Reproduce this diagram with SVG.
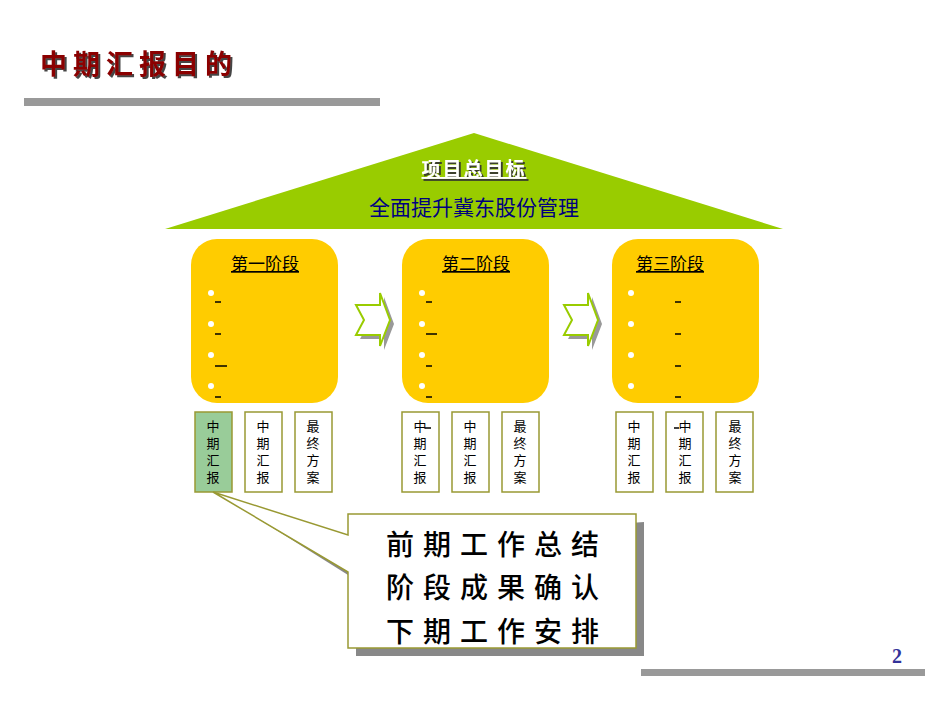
<svg xmlns="http://www.w3.org/2000/svg" width="950" height="713" viewBox="0 0 950 713">
<defs>
<filter id="sh" x="-10%" y="-20%" width="130%" height="150%"><feDropShadow dx="2" dy="2" stdDeviation="0.6" flood-color="#333" flood-opacity="0.9"/></filter>
</defs>
<style>
.stage{fill:#FFCC00;}
.st{font-family:"Noto Sans CJK SC",serif;font-size:17px;fill:#000;text-decoration:underline;}
.dot{fill:#fff;}
.dash{stroke:#000;stroke-width:1.5;}
.sb{fill:#fff;stroke:#999933;stroke-width:1.5;}
.sbt{font-family:"Noto Sans CJK SC",sans-serif;font-size:13px;fill:#000;writing-mode:vertical-rl;letter-spacing:4px;}
.arr{fill:#fff;stroke:#99CC00;stroke-width:2;}
.arrs{fill:#999;}
</style>
<rect width="950" height="713" fill="#fff"/>
<g id="title">
<text x="40" y="74" font-family="Noto Sans CJK SC,sans-serif" font-size="27" font-weight="bold" fill="#8B0000" letter-spacing="6" filter="url(#sh)">中期汇报目的</text>
<rect x="24" y="98" width="356" height="8" fill="#999"/>
</g>
<g id="roof">
<polygon points="474,133 165,229 783,229" fill="#99CC00"/>
<text x="474" y="176" text-anchor="middle" font-family="Noto Sans CJK SC,sans-serif" font-size="19" font-weight="bold" fill="#fff" letter-spacing="2" text-decoration="underline" filter="url(#sh)">项目总目标</text>
<text x="474" y="215" text-anchor="middle" font-family="Noto Sans CJK SC,sans-serif" font-size="21" fill="#000080">全面提升冀东股份管理</text>
</g>
<g id="stage1">
<rect class="stage" x="191" y="239" width="147" height="164" rx="26"/>
<text class="st" x="265" y="270" text-anchor="middle">第一阶段</text>
<circle class="dot" cx="211" cy="293" r="3"/><circle class="dot" cx="211" cy="324" r="3"/><circle class="dot" cx="211" cy="355" r="3"/><circle class="dot" cx="211" cy="386" r="3"/>
<line class="dash" x1="215" y1="302" x2="221" y2="302"/><line class="dash" x1="215" y1="334" x2="221" y2="334"/><line class="dash" x1="215" y1="366" x2="227" y2="366"/><line class="dash" x1="215" y1="397" x2="221" y2="397"/>
</g>
<g id="stage2">
<rect class="stage" x="402" y="239" width="147" height="164" rx="26"/>
<text class="st" x="476" y="270" text-anchor="middle">第二阶段</text>
<circle class="dot" cx="422" cy="293" r="3"/><circle class="dot" cx="422" cy="324" r="3"/><circle class="dot" cx="422" cy="355" r="3"/><circle class="dot" cx="422" cy="386" r="3"/>
<line class="dash" x1="426" y1="302" x2="432" y2="302"/><line class="dash" x1="426" y1="334" x2="437" y2="334"/><line class="dash" x1="426" y1="366" x2="432" y2="366"/><line class="dash" x1="426" y1="397" x2="432" y2="397"/>
</g>
<g id="stage3">
<rect class="stage" x="612" y="239" width="147" height="164" rx="26"/>
<text class="st" x="670" y="270" text-anchor="middle">第三阶段</text>
<circle class="dot" cx="631" cy="293" r="3"/><circle class="dot" cx="631" cy="324" r="3"/><circle class="dot" cx="631" cy="355" r="3"/><circle class="dot" cx="631" cy="386" r="3"/>
<line class="dash" x1="675" y1="302" x2="681" y2="302"/><line class="dash" x1="675" y1="334" x2="681" y2="334"/><line class="dash" x1="675" y1="366" x2="681" y2="366"/><line class="dash" x1="675" y1="397" x2="681" y2="397"/>
</g>
<g id="boxes1">
<rect x="195" y="412" width="37" height="80" fill="#99CC99" stroke="#999933" stroke-width="1.5"/>
<text class="sbt" x="213" y="420">中期汇报</text>
<rect class="sb" x="245" y="412" width="37" height="80"/>
<text class="sbt" x="263" y="420">中期汇报</text>
<rect class="sb" x="295" y="412" width="37" height="80"/>
<text class="sbt" x="313" y="420">最终方案</text>
</g>
<g id="boxes2">
<rect class="sb" x="402" y="412" width="37" height="80"/>
<text class="sbt" x="420" y="420">中期汇报</text>
<line class="dash" x1="425" y1="428" x2="431" y2="428"/>
<rect class="sb" x="452" y="412" width="37" height="80"/>
<text class="sbt" x="470" y="420">中期汇报</text>
<rect class="sb" x="502" y="412" width="37" height="80"/>
<text class="sbt" x="520" y="420">最终方案</text>
</g>
<g id="boxes3">
<rect class="sb" x="616" y="412" width="37" height="80"/>
<text class="sbt" x="634" y="420">中期汇报</text>
<rect class="sb" x="666" y="412" width="37" height="80"/>
<text class="sbt" x="685" y="420">中期汇报</text>
<line class="dash" x1="674" y1="428" x2="679" y2="428"/>
<rect class="sb" x="716" y="412" width="37" height="80"/>
<text class="sbt" x="735" y="420">最终方案</text>
</g>
<g id="connectors">
<polygon class="arrs" points="360,309 384,309 384,297 394,324 384,350 384,339 360,339 368,324"/>
<polygon class="arr" points="356,305 380,305 380,293 390,320 380,346 380,335 356,335 364,320"/>
<polygon class="arrs" points="568,309 592,309 592,297 602,324 592,350 592,339 568,339 576,324"/>
<polygon class="arr" points="564,305 588,305 588,293 598,320 588,346 588,335 564,335 572,320"/>
</g>
<g id="callout">
<polygon points="219,494 356,543 644,522 644,656 356,656 356,580" fill="#888"/>
<polygon points="213,492 348,535 348,514 636,514 636,648 348,648 348,572" fill="#fff" stroke="#999933" stroke-width="1.5"/>
<g font-family="Noto Sans CJK SC,sans-serif" font-size="28" font-weight="500" fill="#000" letter-spacing="9" text-anchor="middle">
<text x="497" y="555">前期工作总结</text>
<text x="497" y="598">阶段成果确认</text>
<text x="497" y="642">下期工作安排</text>
</g>
</g>
<g id="footer">
<rect x="641" y="669" width="284" height="7" fill="#999"/>
<text x="897" y="663" text-anchor="middle" font-family="Liberation Serif,serif" font-size="20" font-weight="bold" fill="#333399">2</text>
</g>
</svg>
